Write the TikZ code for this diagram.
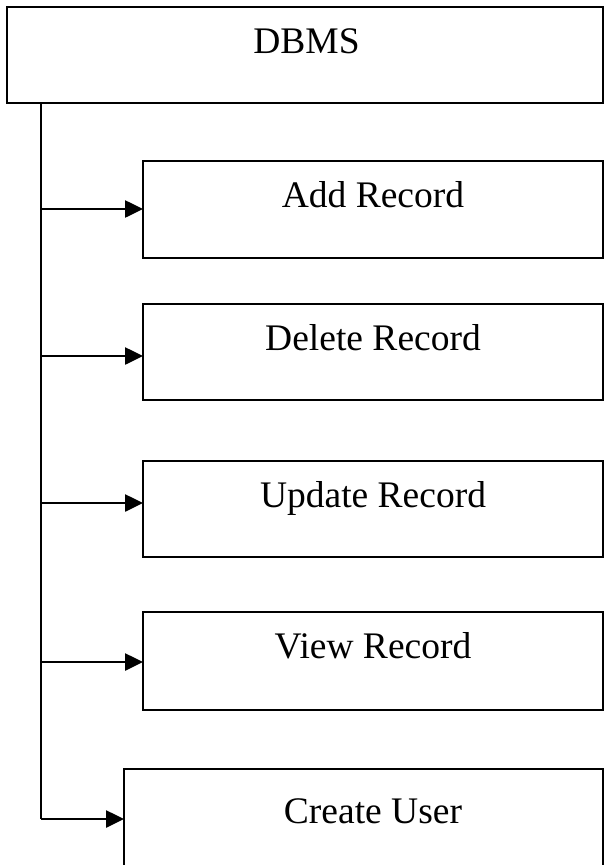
\documentclass[tikz,border=0pt]{standalone}
\usepackage{fontspec}
\setmainfont{Liberation Serif}
\usetikzlibrary{arrows.meta}
\begin{document}
\begin{tikzpicture}[x=1pt,y=1pt,
  box/.style={draw=black, line width=2pt, rectangle, inner sep=0pt, outer sep=0pt, minimum width=460pt},
  txt/.style={anchor=base, inner sep=0pt, font=\fontsize{37.5}{42}\selectfont},
  trunk/.style={draw=black, line width=2pt},
  arr/.style={draw=black, line width=2.6pt, -{Triangle[length=18pt,width=17pt]}}
]
\useasboundingbox (0,0) rectangle (604,-865);
\clip (0,0) rectangle (604,-865);

% main menu box
\node[box, line width=2.4pt, minimum width=596pt, minimum height=96pt] (dbms) at (305,-55) {};
\node[txt] (dbmst) at (306.5,-53) {DBMS};

% option boxes
\node[box, minimum height=97pt] (add) at (373,-209.5) {};
\node[box, minimum height=96pt] (del) at (373,-352) {};
\node[box, minimum height=96pt] (upd) at (373,-509) {};
\node[box, minimum height=98pt] (view) at (373,-661) {};
\node[box, minimum width=479pt, minimum height=97pt] (user) at (363.5,-817.5) {};

\node[txt] (addt) at (373,-207) {Add Record};
\node[txt] (delt) at (373,-350) {Delete Record};
\node[txt] (updt) at (373,-507) {Update Record};
\node[txt] (viewt) at (373,-658) {View Record};
\node[txt] (usert) at (373,-823) {Create User};

% branch points on the trunk line
\coordinate (top) at (40.7,-103);
\coordinate (j1) at (40.7,-209);
\coordinate (j2) at (40.7,-356);
\coordinate (j3) at (40.7,-503);
\coordinate (j4) at (40.7,-662);
\coordinate (j5) at (40.7,-819);

\draw[trunk] (top |- dbms.south) -- (j5);

\draw[arr] (j1) -- (j1 -| add.west);
\draw[arr] (j2) -- (j2 -| del.west);
\draw[arr] (j3) -- (j3 -| upd.west);
\draw[arr] (j4) -- (j4 -| view.west);
\draw[arr] (j5) -- (j5 -| user.west);
\end{tikzpicture}
\end{document}
